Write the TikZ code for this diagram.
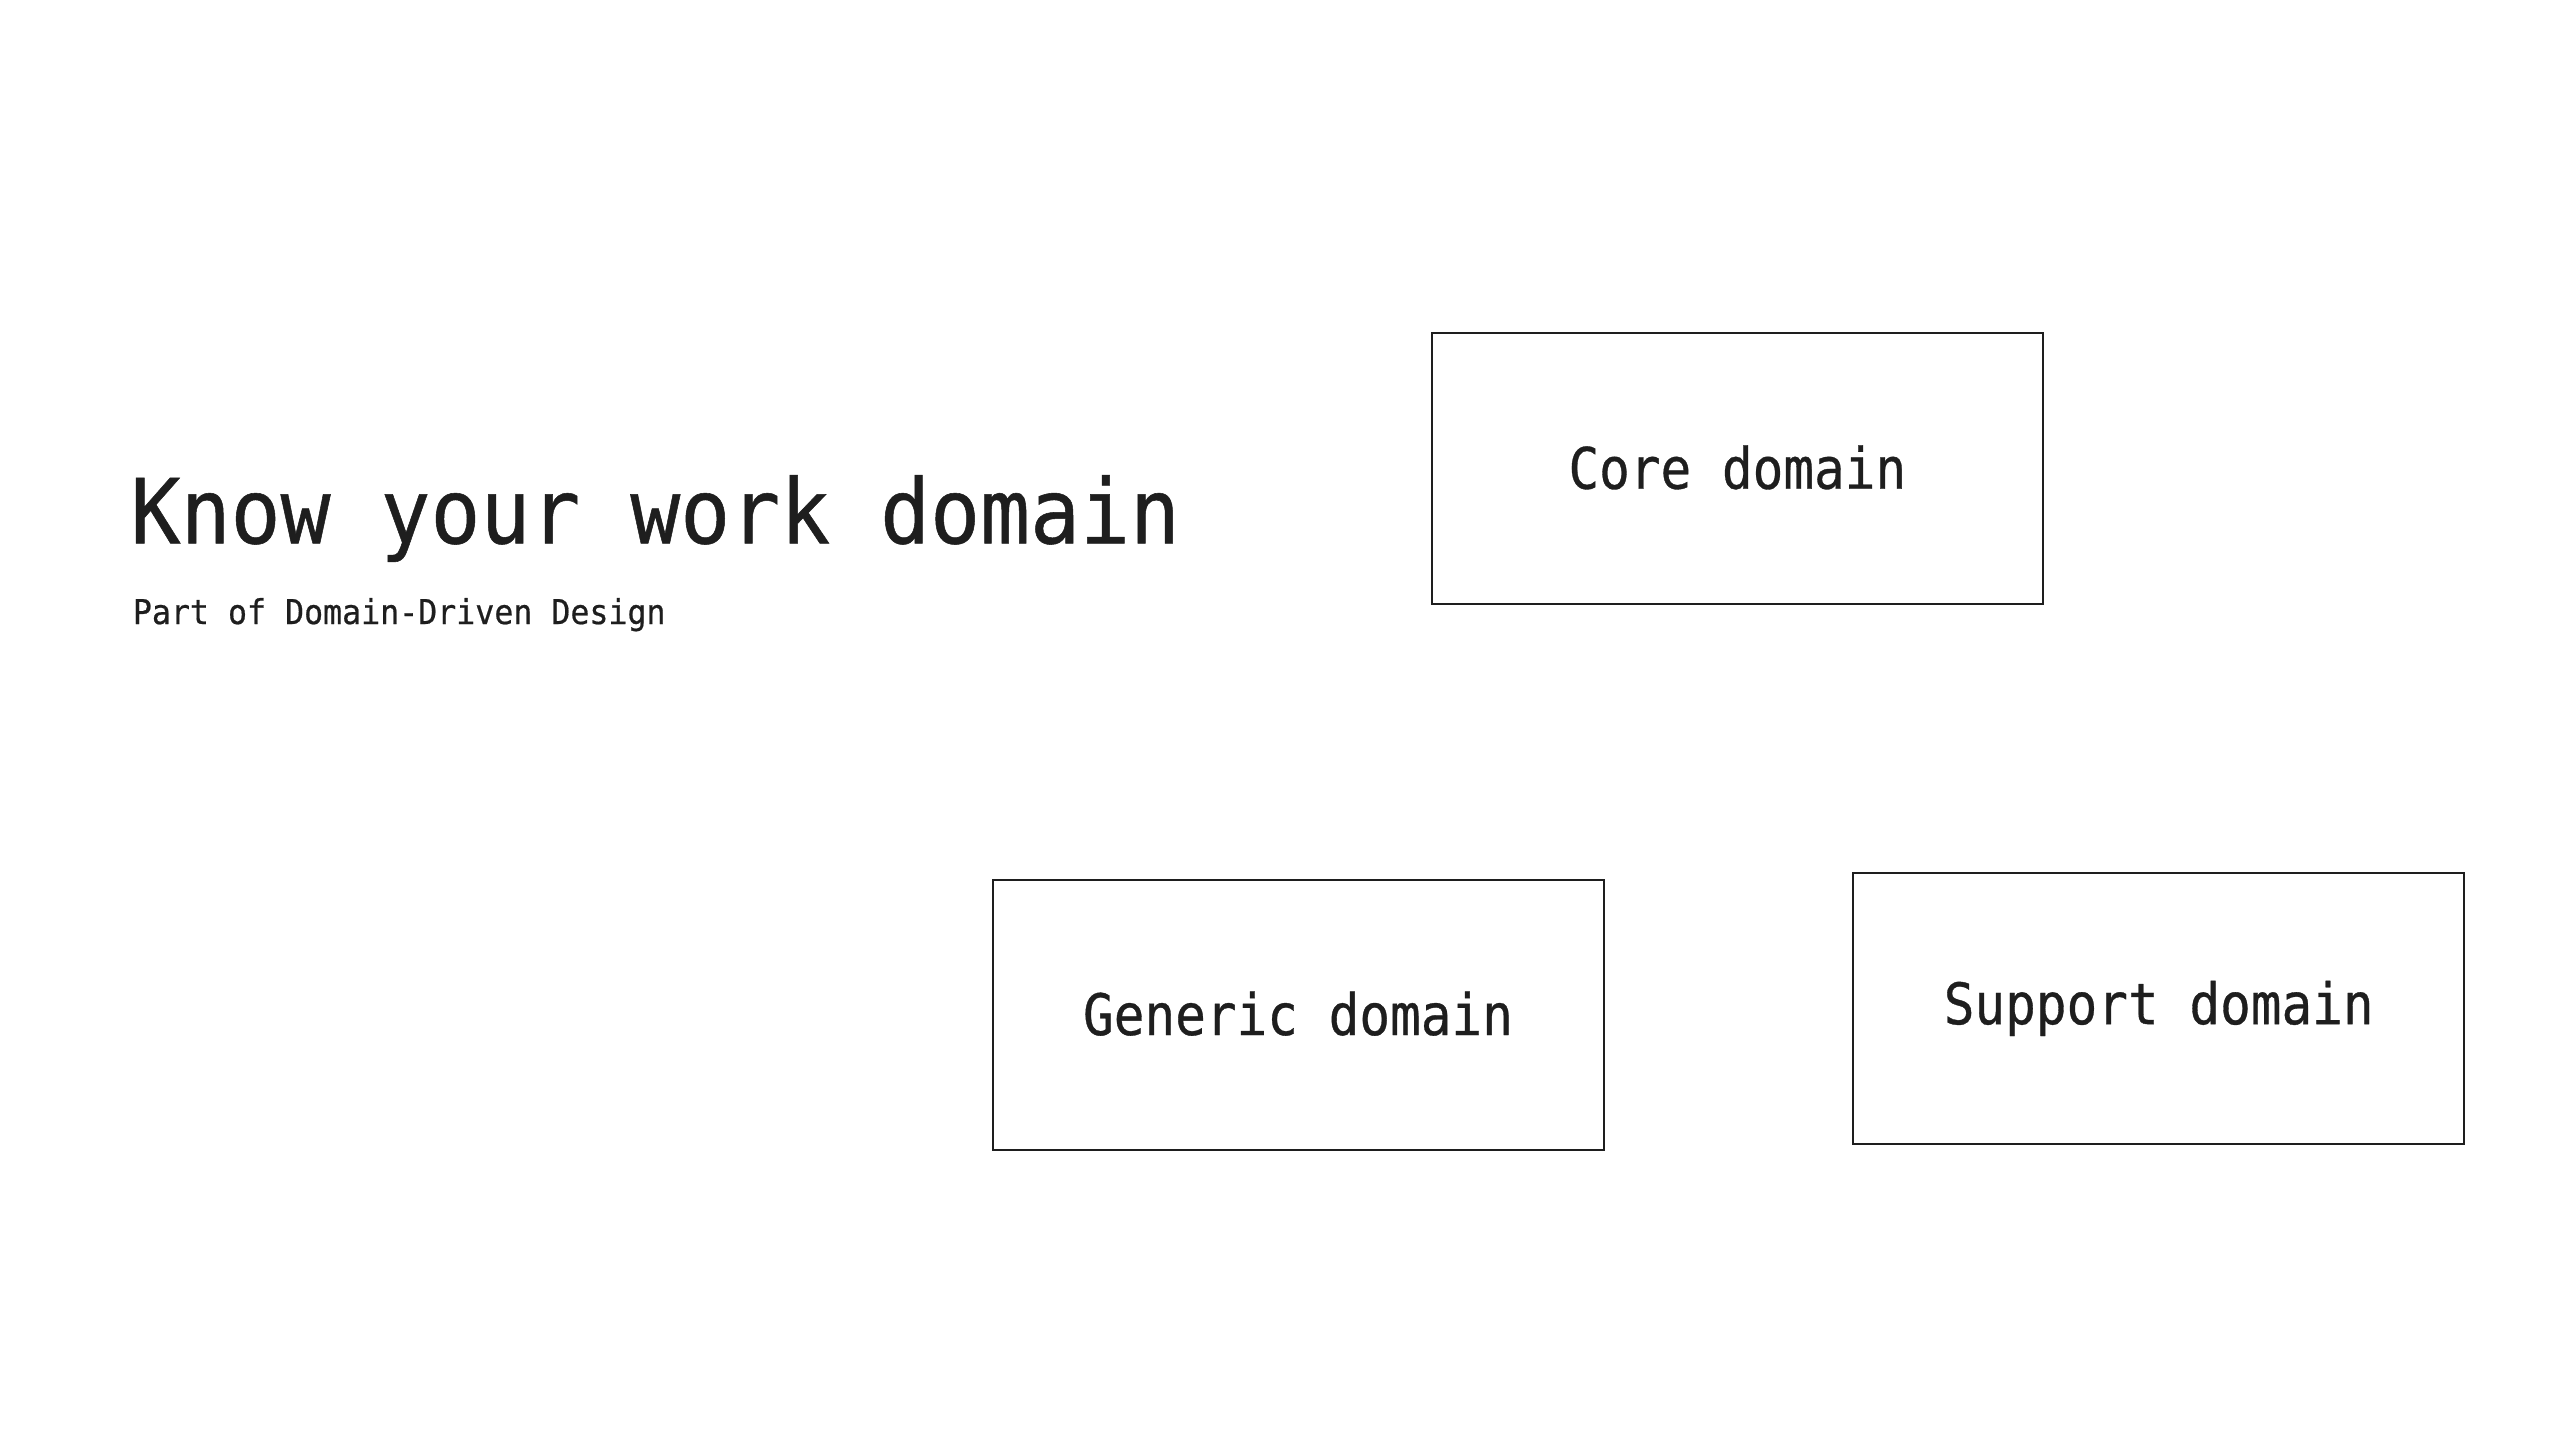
\documentclass[tikz,border=0pt]{standalone}
\usepackage{fontspec}
\newfontfamily\handfont[FakeBold=0.6]{DejaVu Sans Mono}
\definecolor{ink}{HTML}{1E1E1E}
\newcommand{\tallA}[1]{\raisebox{1.6pt}{\scalebox{1}[1.12]{#1}}}
\newcommand{\tallB}[1]{\scalebox{1}[1.08]{#1}}
\tikzset{
  domainbox/.style={draw=ink, line width=1pt, minimum width=305.5pt, minimum height=135.3pt, inner sep=0pt, text=ink, font=\handfont\fontsize{25.5pt}{30pt}\selectfont},
  titletext/.style={anchor=base west, inner sep=0pt, text=ink, font=\handfont\fontsize{41.5pt}{48pt}\selectfont},
  subtext/.style={anchor=base west, inner sep=0pt, text=ink, font=\handfont\fontsize{15.8pt}{19pt}\selectfont}
}
\begin{document}
\begin{tikzpicture}[x=0.5pt,y=-0.5pt]
\fill[white] (0,0) rectangle (2560,1456);
\useasboundingbox (0,0) rectangle (2560,1456);
\node[titletext] (title) at (130.3,543.3) {\tallB{Know your work domain}};
\node[subtext] (sub) at (132.5,624) {\tallB{Part of Domain-Driven Design}};
\node[domainbox] (core) at (1737.3,468.6) {\tallA{Core domain}};
\node[domainbox] (generic) at (1298,1014.9) {\tallA{Generic domain}};
\node[domainbox] (support) at (2158.7,1008.4) {\tallA{Support domain}};
\end{tikzpicture}
\end{document}
